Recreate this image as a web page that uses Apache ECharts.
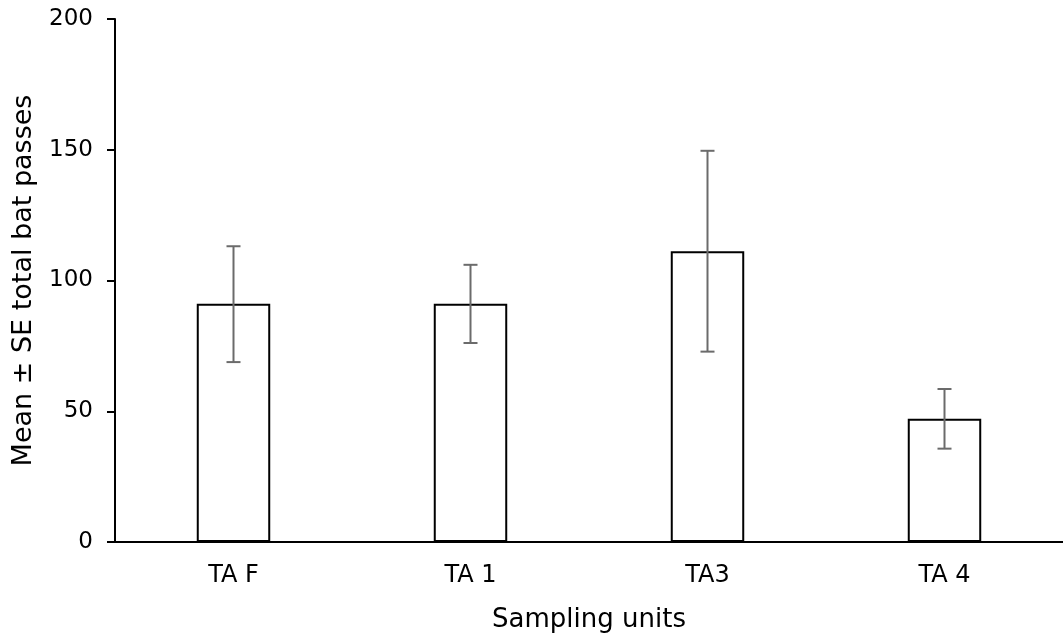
<!DOCTYPE html>
<html>
<head>
<meta charset="utf-8">
<script src="https://cdn.jsdelivr.net/npm/echarts@6/dist/echarts.min.js"></script>
<style>
  html, body { margin: 0; padding: 0; background: #fff; }
  #chart { width: 1063px; height: 641px; }
</style>
</head>
<body>
<div id="chart"></div>
<script>
const categories = ["TA F", "TA 1", "TA3", "TA 4"];
const means = [91.1, 91.1, 111.2, 47.1];
const upper = [113.1, 106.0, 149.6, 58.5];
const lower = [68.8, 76.1, 72.8, 35.7];
const yTicks = [0, 50, 100, 150, 200];

const chart = echarts.init(document.getElementById("chart"));
const font = "DejaVu Sans";

const errorData = categories.map((c, i) => [i, lower[i], upper[i]]);

const option = {
  backgroundColor: "#fff",
  animation: false,
  grid: { left: 115, right: -4, top: 19, bottom: 99 },
  xAxis: {
    type: "category",
    data: categories,
    name: "Sampling units",
    nameLocation: "middle",
    nameGap: 65,
    nameTextStyle: { fontFamily: font, fontSize: 26, color: "#000" },
    axisLine: { lineStyle: { color: "#000", width: 2 } },
    axisTick: { show: false },
    axisLabel: { fontFamily: font, fontSize: 24, color: "#000", margin: 22 },
  },
  yAxis: {
    type: "value",
    min: yTicks[0],
    max: yTicks[yTicks.length - 1],
    interval: 50,
    name: "Mean ± SE total bat passes",
    nameLocation: "middle",
    nameGap: 78,
    nameTextStyle: { fontFamily: font, fontSize: 27, color: "#000" },
    axisLine: { show: true, lineStyle: { color: "#000", width: 2 } },
    axisTick: { show: true, length: 8, lineStyle: { color: "#000", width: 2 } },
    axisLabel: { fontFamily: font, fontSize: 23, color: "#000", margin: 22 },
    splitLine: { show: false },
  },
  series: [
    {
      type: "bar",
      data: means,
      barWidth: "31%",
      itemStyle: { color: "#fff", borderColor: "#000", borderWidth: 2 },
    },
    {
      type: "custom",
      data: errorData,
      z: 10,
      renderItem: (params, api) => {
        const x = api.value(0);
        const lo = api.coord([x, api.value(1)]);
        const hi = api.coord([x, api.value(2)]);
        const half = 7;
        const style = { stroke: "#6b6b6b", lineWidth: 2 };
        return {
          type: "group",
          children: [
            { type: "line", shape: { x1: hi[0], y1: hi[1], x2: lo[0], y2: lo[1] }, style },
            { type: "line", shape: { x1: hi[0] - half, y1: hi[1], x2: hi[0] + half, y2: hi[1] }, style },
            { type: "line", shape: { x1: lo[0] - half, y1: lo[1], x2: lo[0] + half, y2: lo[1] }, style },
          ],
        };
      },
    },
  ],
};

chart.setOption(option);
</script>
</body>
</html>
